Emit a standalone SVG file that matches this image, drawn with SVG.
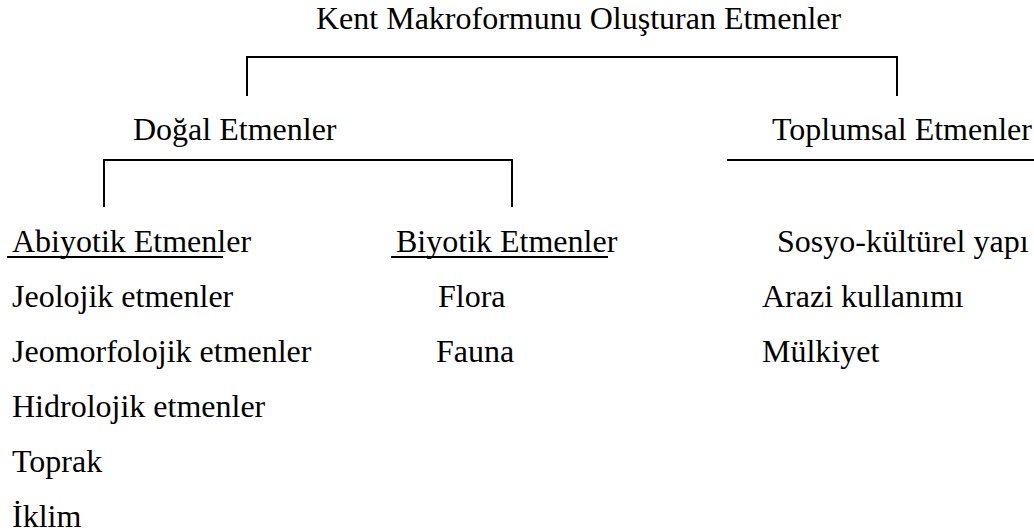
<svg xmlns="http://www.w3.org/2000/svg" width="1034" height="532" viewBox="0 0 1034 532">
<style>
text{font-family:"Liberation Serif","Times New Roman",serif;font-size:32px;fill:#000}
.ln{stroke:#000;stroke-width:2;fill:none}
</style>
<rect width="1034" height="532" fill="#fff"/>
<g id="connectors">
<path class="ln" d="M247,96V57H897V96"/>
<path class="ln" d="M104,207V160H512V207"/>
<path class="ln" d="M727,160H1034"/>
<path class="ln" d="M7,257H223"/>
<path class="ln" d="M391,257H608"/>
</g>
<g id="root"><text x="316" y="29">Kent Makroformunu Oluşturan Etmenler</text></g>
<g id="dogal"><text x="133" y="140">Doğal Etmenler</text></g>
<g id="toplumsal"><text x="772" y="140">Toplumsal Etmenler</text></g>
<g id="abiyotik">
<text x="12" y="252">Abiyotik Etmenler</text>
<text x="12" y="307">Jeolojik etmenler</text>
<text x="12" y="362">Jeomorfolojik etmenler</text>
<text x="12" y="417">Hidrolojik etmenler</text>
<text x="12" y="472">Toprak</text>
<text x="12" y="527">İklim</text>
</g>
<g id="biyotik">
<text x="396" y="252">Biyotik Etmenler</text>
<text x="438" y="307">Flora</text>
<text x="436" y="362">Fauna</text>
</g>
<g id="toplumsal-items">
<text x="777" y="252">Sosyo-kültürel yapı</text>
<text x="762" y="307">Arazi kullanımı</text>
<text x="762" y="362">Mülkiyet</text>
</g>
</svg>
